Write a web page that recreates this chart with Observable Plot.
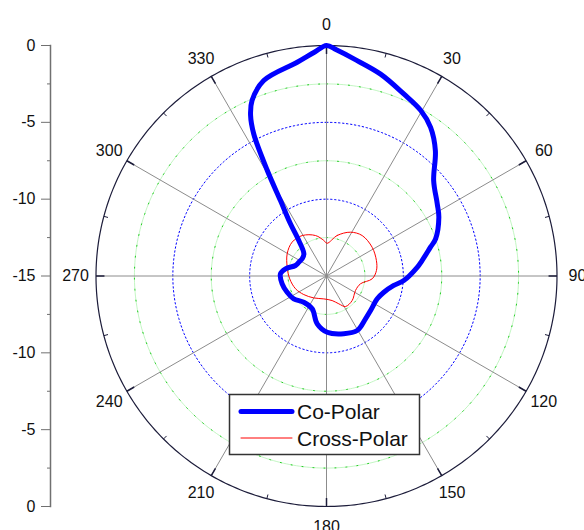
<!DOCTYPE html>
<html><head><meta charset="utf-8">
<script src="https://cdn.jsdelivr.net/npm/d3@7"></script>
<script src="https://cdn.jsdelivr.net/npm/@observablehq/plot@0.6"></script>
<style>
body{margin:0;background:#fff;font-family:"Liberation Sans",Arial,sans-serif}
#chart{width:584px;height:530px}
</style>
</head><body><div id="chart"></div>
<script>
// Co-Polar pattern (angle in degrees clockwise from top, value in dB)
const coAngles = [0, 2.5, 7.2, 15, 23, 29.6, 35, 41, 48.3, 56.8, 62.4, 71.2, 74.5, 80.8, 84.5, 93.3, 98, 105.8, 114.2, 128, 137.7, 150.6, 163.3, 179.3, 191, 203.6, 220.9, 235.1, 247.6, 260, 272.7, 280, 288.7, 296.5, 305.3, 314.4, 322, 325.4, 328.6, 330.7, 332.9, 334.7, 337, 342.2, 352.2, 357];
const coValues = [0, -0.27, -0.76, -1.4, -2.13, -2.6, -3.19, -4.2, -5.66, -6.39, -6.75, -7.5, -7.98, -8.7, -9.07, -9.96, -10.58, -11.12, -11.38, -11.36, -11.23, -10.93, -11.08, -11.34, -11.83, -12.67, -12.74, -12.4, -12.23, -12.07, -12.0, -12.29, -12.87, -12.99, -13.06, -12.94, -12.07, -10.87, -9.25, -7.13, -4.6, -3.44, -2.6, -1.64, -0.96, -0.4];
// Cross-Polar pattern
const crossAngles = [1, 14.8, 28.7, 41.4, 57.8, 72.8, 83.7, 93.5, 102.9, 116.6, 133.6, 148.1, 156.1, 167, 186.7, 210.2, 230.8, 247.6, 265.6, 282.6, 299.5, 314.6, 329, 344.8, 355.7];
const crossValues = [-12.87, -12.27, -11.75, -11.49, -11.49, -11.6, -11.73, -12.02, -12.73, -12.89, -12.69, -12.66, -13.02, -13.36, -13.5, -13.35, -13.09, -12.82, -12.6, -12.38, -12.06, -11.86, -11.93, -12.27, -12.68];

const angleTicks = [0, 30, 60, 90, 120, 150, 180, 210, 240, 270, 300, 330];
const minorAngleTicks = [15, 45, 75, 105, 135, 165, 195, 225, 255, 285, 315, 345];
const radialMin = -15, radialMax = 0;
const blueRings = [-5, -10];
const greenRings = [-2.5, -7.5, -12.5];
const axisMajor = [-15, -10, -5, 0, 5, 10, 15];
const axisMinor = [-12.5, -7.5, -2.5, 2.5, 7.5, 12.5];
const seriesNames = ["Co-Polar", "Cross-Polar"];

const span = radialMax - radialMin;
const W = 584, H = 530, mT = 45, mB = 24, mL = 50, mR = 27.5;
const k = (H - mT - mB) / (2 * span);
const xDomain = [span - (W - mL - mR) / k, span];
const rad = a => a * Math.PI / 180;
const toXY = (a, v) => { const r = v - radialMin; return {x: r * Math.sin(rad(a)), y: r * Math.cos(rad(a))}; };
const ring = (v, name) => d3.range(0, 361, 1).map(a => ({ring: name + v, ...toXY(a, v)}));

const co = coAngles.map((a, i) => toXY(a, coValues[i]));
const cross = crossAngles.map((a, i) => toXY(a, crossValues[i]));
const bluePts = blueRings.flatMap(v => ring(v, "b"));
const greenPts = greenRings.flatMap(v => ring(v, "g"));
const outerPts = ring(radialMax, "o");

const plot = Plot.plot({
  width: W, height: H,
  marginTop: mT, marginBottom: mB, marginLeft: mL, marginRight: mR,
  x: {domain: xDomain, axis: null},
  y: {domain: [-span, span], axis: null},
  style: {fontFamily: '"Liberation Sans", Arial, sans-serif', fontSize: "16px", background: "#fff"},
  marks: [
    Plot.line(greenPts, {x: "x", y: "y", z: "ring", stroke: "#b4f4b4", strokeWidth: 0.8}),
    Plot.line(greenPts, {x: "x", y: "y", z: "ring", stroke: "#22cc22", strokeWidth: 1, strokeDasharray: "1,10"}),
    Plot.line(bluePts, {x: "x", y: "y", z: "ring", stroke: "#0000ff", strokeWidth: 1, strokeDasharray: "1.5,2.5"}),
    Plot.link(angleTicks, {x1: 0, y1: 0, x2: a => span * Math.sin(rad(a)), y2: a => span * Math.cos(rad(a)), stroke: "#8c8c8c", strokeWidth: 1}),
    Plot.line(outerPts, {x: "x", y: "y", stroke: "#1c1c3a", strokeWidth: 1.2}),
    Plot.link(angleTicks, {x1: a => span * Math.sin(rad(a)), y1: a => span * Math.cos(rad(a)), x2: a => (span - 0.55) * Math.sin(rad(a)), y2: a => (span - 0.55) * Math.cos(rad(a)), stroke: "#1c1c3a", strokeWidth: 1.5}),
    Plot.link(minorAngleTicks, {x1: a => span * Math.sin(rad(a)), y1: a => span * Math.cos(rad(a)), x2: a => (span - 0.28) * Math.sin(rad(a)), y2: a => (span - 0.28) * Math.cos(rad(a)), stroke: "#1c1c3a", strokeWidth: 1}),
    Plot.text(angleTicks, {x: a => 16.33 * Math.sin(rad(a)), y: a => 16.33 * Math.cos(rad(a)), text: a => String(a), fill: "#111", fontSize: 16}),
    Plot.line(cross, {x: "x", y: "y", stroke: "#ff0000", strokeWidth: 1, curve: "catmull-rom-closed"}),
    Plot.line(co, {x: "x", y: "y", stroke: "#0000ff", strokeWidth: 5, curve: "catmull-rom-closed", strokeLinejoin: "round"}),
    Plot.frame({anchor: "left", stroke: "#707070", strokeWidth: 1.5}),
    Plot.axisY(axisMajor, {anchor: "left", tickSize: 9, tickPadding: 6, stroke: "#707070", fill: "#111", fontSize: 16, label: null, tickFormat: d => String(Math.abs(d) - span)}),
    Plot.axisY(axisMinor, {anchor: "left", tickSize: 3, stroke: "#707070", label: null, tickFormat: () => ""})
  ]
});
document.getElementById("chart").appendChild(plot);

// Legend box
const svg = d3.select(plot);
const lg = svg.append("g");
lg.append("rect").attr("x", 229.5).attr("y", 394.5).attr("width", 190).attr("height", 60)
  .attr("fill", "#fff").attr("stroke", "#333").attr("stroke-width", 1.5);
const lgItems = [{name: seriesNames[0], color: "#0000ff", w: 5, y: 411.5}, {name: seriesNames[1], color: "#ff0000", w: 1, y: 438}];
lgItems.forEach(it => {
  lg.append("line").attr("x1", 241).attr("x2", 292).attr("y1", it.y).attr("y2", it.y)
    .attr("stroke", it.color).attr("stroke-width", it.w).attr("stroke-linecap", "round");
  lg.append("text").attr("x", 297).attr("y", it.y + 7.5).attr("fill", "#111")
    .style("text-anchor", "start").style("font-size", "21px")
    .style("font-family", '"Liberation Sans", Arial, sans-serif').text(it.name);
});
</script>
</body></html>
